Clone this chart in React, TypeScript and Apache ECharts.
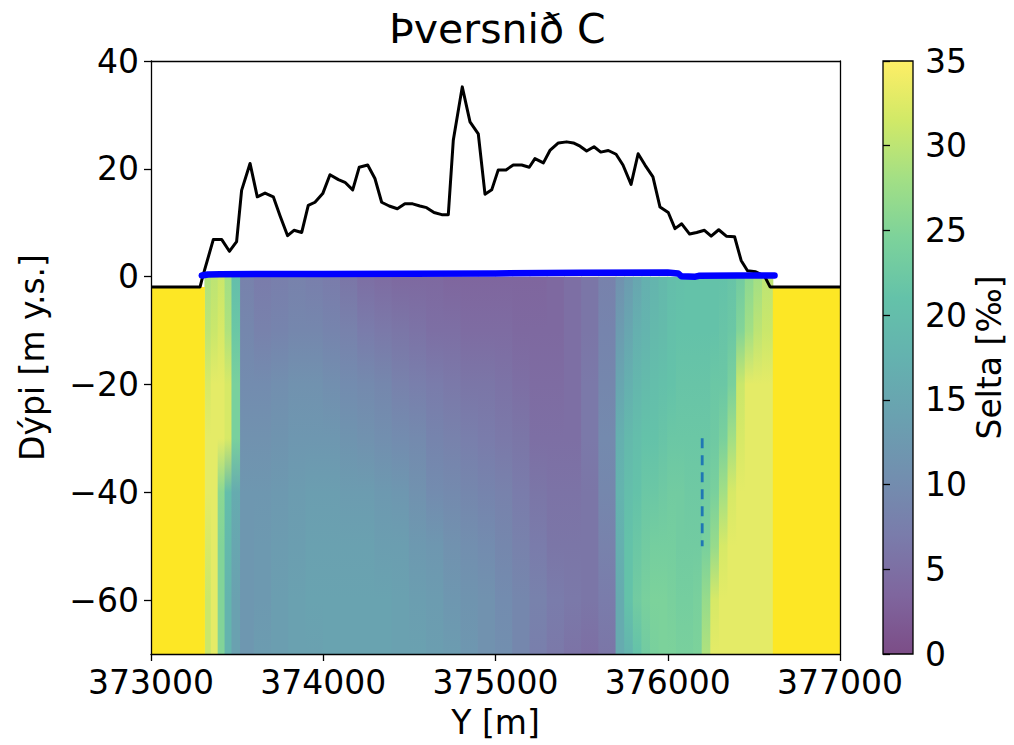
import React, { useEffect, useRef } from "react";
import * as echarts from "echarts";

// ---------------- data ----------------
const xTickValues = [373000, 374000, 375000, 376000, 377000];
const yTickValues = [-60, -40, -20, 0, 20, 40];

// column edges of the salinity grid (m)
const colEdges = [
  373313, 373350, 373390, 373430, 373470, 373520, 373600, 373700, 373800, 373900,
  374000, 374100, 374200, 374300, 374400, 374500, 374600, 374700, 374800, 374900,
  375000, 375100, 375200, 375300, 375400, 375500, 375600, 375700, 375750, 375800,
  375850, 375900, 375950, 376000, 376050, 376100, 376150, 376200, 376250, 376300,
  376350, 376400, 376450, 376500, 376550, 376610,
];
// depth levels (m y.s.)
const depthLevels = [0, -10, -20, -30, -40, -50, -60, -70];
// salinity (‰) per column at each depth level
const sal_0 = [29, 30, 31, 28, 20, 8, 7, 7.5, 8, 7.5, 7, 6, 5, 4.5, 4, 4, 4, 3.5, 3.5, 3.5, 3.5, 3.5, 3.5, 4, 5, 6, 8, 11, 13, 15, 17, 18, 19, 20, 20.5, 21, 21, 21, 21, 21, 21.5, 23, 26, 28, 30];
const sal_10 = [30, 31, 32, 29, 22, 9, 8, 8.5, 9, 9, 8.5, 8, 7, 6.5, 6, 5.5, 5, 5, 4.5, 4.5, 4.5, 4, 4, 4, 5, 6, 8.5, 13, 15, 17, 18, 19, 19.5, 20.5, 21, 21, 21, 21, 21, 21.5, 22, 25, 28, 30, 31];
const sal_20 = [32, 33, 33, 32, 24, 10, 10, 10.5, 11, 11, 10.5, 10, 9.5, 9, 8, 7.5, 7, 6.5, 6, 6, 5.5, 5, 4.5, 4.5, 5, 6.5, 9, 15, 17, 18.5, 19.5, 20, 20.5, 21, 21.5, 21.5, 21.5, 21.5, 22, 22, 24, 31, 33, 33, 33];
const sal_30 = [33, 33, 33, 32, 24, 11, 11, 11.5, 12, 12, 12, 11.5, 11, 10.5, 10, 9.5, 8.5, 8, 7.5, 7, 6.5, 6, 5, 5, 5, 6.5, 9.5, 17, 19, 20, 21, 21, 21.5, 22, 22, 22, 22, 22, 22.5, 24, 28, 32, 33, 33, 33];
const sal_40 = [33, 33, 26, 20, 16, 12, 12, 12.5, 13, 13.5, 13.5, 13, 13, 12.5, 12, 11, 10, 9.5, 9, 8.5, 8, 7, 6, 5.5, 5.5, 6, 9, 18, 20, 21, 22, 22, 22.5, 23, 23, 22.5, 22.5, 23, 24, 28, 32, 33, 33, 33, 33];
const sal_50 = [32, 33, 25, 19, 15, 12, 12.5, 13, 13.5, 14, 14, 14, 14, 13.5, 13.5, 12.5, 12, 11, 10.5, 10, 9, 8, 7, 6, 6, 6, 8, 17, 21, 22, 23, 23.5, 23.5, 23.5, 23, 23, 23, 24, 27, 32, 33, 33, 33, 33, 33];
const sal_60 = [31, 33, 25, 18, 14, 12, 12.5, 13.5, 14, 14.5, 14.5, 14.5, 14.5, 14.5, 14, 13.5, 13, 12, 11.5, 11, 10, 9, 8, 7, 6.5, 6, 7, 16, 21, 23, 24, 24.5, 24.5, 24, 23.5, 23.5, 24, 27, 32, 33, 33, 33, 33, 33, 33];
const sal_70 = [31, 33, 25, 18, 14, 12, 13, 13.5, 14, 14, 14.5, 14.5, 14.5, 14.5, 14, 14, 13.5, 13, 12, 11, 10.5, 9, 7.5, 6.5, 5.5, 5, 6, 16, 18, 21, 23, 24, 24.5, 24.5, 24, 24, 24.5, 29, 33, 33, 33, 33, 33, 33, 33];
const salRows = [sal_0, sal_10, sal_20, sal_30, sal_40, sal_50, sal_60, sal_70];

// open sea outside the section (salinity at max)
const seaX0 = [373000, 376610];
const seaX1 = [373313, 377000];
const seaTop = -1.9;
const seaBottom = -70;

// terrain profile (black line)
const topoX = [373000, 373285, 373300, 373362, 373410, 373455, 373497, 373526, 373575, 373617, 373662, 373710, 373749, 373793, 373830, 373875, 373913, 373952, 373997, 374039, 374088, 374126, 374171, 374209, 374258, 374300, 374339, 374383, 374430, 374474, 374519, 374561, 374600, 374643, 374688, 374726, 374755, 374807, 374852, 374900, 374939, 374978, 375016, 375061, 375103, 375152, 375196, 375229, 375278, 375316, 375365, 375413, 375452, 375491, 375529, 375572, 375611, 375655, 375700, 375740, 375787, 375828, 375868, 375914, 375955, 376003, 376042, 376081, 376127, 376168, 376213, 376252, 376296, 376340, 376388, 376426, 376463, 376511, 376550, 376565, 376594, 377000];
const topoY = [-1.9, -1.9, 0, 6.9, 6.9, 4.7, 6.5, 16, 21, 14.8, 15.5, 14.8, 11.3, 7.6, 8.6, 8.2, 13.2, 13.8, 15.4, 18.9, 18, 17.5, 16.1, 20.3, 20.7, 18.2, 13.8, 13.1, 12.6, 13.5, 13.5, 13.1, 12.8, 11.9, 11.5, 11.5, 25.3, 35.2, 28.7, 26.5, 15.3, 16.1, 19.8, 19.8, 20.7, 20.7, 20.3, 21.9, 21.1, 23.4, 24.8, 25, 24.8, 24.2, 23.3, 24.1, 23.1, 23.4, 22.7, 20.7, 17.1, 22.8, 20.7, 18.5, 12.9, 11.9, 8.9, 9.8, 7.9, 8.2, 8.6, 7.5, 8.7, 7.5, 7.4, 3.0, 1.1, 0.9, 0.3, -0.1, -1.9, -1.9];

// water surface (blue line)
const waterX = [373295, 373330, 373400, 374000, 374500, 375000, 375500, 376000, 376060, 376080, 376160, 376180, 376400, 376620];
const waterY = [0.2, 0.4, 0.45, 0.5, 0.55, 0.6, 0.7, 0.75, 0.6, 0.05, 0.0, 0.15, 0.2, 0.2];

// measurement profile (dashed)
const probeX = [376200, 376200];
const probeY = [-30, -50];

// ---------------- styles ----------------
const VIRIDIS = ["#440154", "#482475", "#414487", "#355f8d", "#2a788e", "#21918c", "#22a884", "#44bf70", "#7ad151", "#bddf26", "#fde725"];
const SAL_MIN = 0;
const SAL_MAX = 35;
const ALPHA = 0.7;
const FONT = "DejaVu Sans";

function hexToRgb(h: string) {
  return [parseInt(h.slice(1, 3), 16), parseInt(h.slice(3, 5), 16), parseInt(h.slice(5, 7), 16)];
}
function viridisBlended(t: number) {
  const tt = Math.max(0, Math.min(1, t)) * (VIRIDIS.length - 1);
  const i = Math.min(VIRIDIS.length - 2, Math.floor(tt));
  const f = tt - i;
  const a = hexToRgb(VIRIDIS[i]);
  const b = hexToRgb(VIRIDIS[i + 1]);
  const c = a.map((v, k) => v + (b[k] - v) * f).map((v) => Math.round(v * ALPHA + 255 * (1 - ALPHA)));
  return `rgb(${c[0]},${c[1]},${c[2]})`;
}
function salColor(v: number) {
  return viridisBlended((v - SAL_MIN) / (SAL_MAX - SAL_MIN));
}
const minusFmt = (v: number) => String(v).replace("-", "\u2212");
const plainFmt = (v: number) => String(v);

export default function App() {
  const ref = useRef<HTMLDivElement>(null);
  useEffect(() => {
    if (!ref.current) return;
    const chart = echarts.init(ref.current, undefined, { renderer: "svg" });
    const last = depthLevels.length - 1;
    const span = depthLevels[0] - depthLevels[last];

    const heatData = colEdges.slice(0, -1).map((x0, i) => [x0, colEdges[i + 1], i]);
    const seaData = seaX0.map((x0, i) => [x0, seaX1[i]]);

    const axisLineStyle = { color: "#000", width: 1.3 };
    const labelStyle = { color: "#000", fontSize: 33, fontFamily: FONT };

    chart.setOption({
      animation: false,
      backgroundColor: "#fff",
      title: {
        text: "Þversnið C",
        left: 389,
        top: 8,
        padding: 0,
        textStyle: { color: "#000", fontSize: 41, fontWeight: "normal", fontFamily: FONT },
      },
      grid: [
        { left: 151, top: 61, width: 689, height: 593, containLabel: false },
        { left: 883, top: 61, width: 30, height: 593, containLabel: false },
      ],
      xAxis: [
        {
          type: "value", gridIndex: 0, position: "bottom", min: 373000, max: 377000, interval: 1000, z: 10,
          axisLine: { show: true, onZero: false, lineStyle: axisLineStyle },
          axisTick: { show: true, length: 7, lineStyle: axisLineStyle, customValues: xTickValues },
          axisLabel: { ...labelStyle, margin: 12, formatter: plainFmt, customValues: xTickValues },
          splitLine: { show: false },
          name: "Y [m]", nameLocation: "middle", nameGap: 52,
          nameTextStyle: { ...labelStyle },
        },
        {
          type: "value", gridIndex: 0, position: "top", min: 373000, max: 377000, z: 10,
          axisLine: { show: true, onZero: false, lineStyle: axisLineStyle },
          axisTick: { show: false }, axisLabel: { show: false }, splitLine: { show: false },
        },
        {
          type: "value", gridIndex: 1, min: 0, max: 1, show: false,
        },
      ],
      yAxis: [
        {
          type: "value", gridIndex: 0, position: "left", min: -70, max: 40, z: 10,
          axisLine: { show: true, onZero: false, lineStyle: axisLineStyle },
          axisTick: { show: true, length: 7, lineStyle: axisLineStyle, customValues: yTickValues },
          axisLabel: { ...labelStyle, margin: 12, formatter: minusFmt, customValues: yTickValues },
          splitLine: { show: false },
          name: "Dýpi [m y.s.]", nameLocation: "middle", nameGap: 102, nameRotate: 90,
          nameTextStyle: { ...labelStyle },
        },
        {
          type: "value", gridIndex: 0, position: "right", min: -70, max: 40, z: 10,
          axisLine: { show: true, onZero: false, lineStyle: axisLineStyle },
          axisTick: { show: false }, axisLabel: { show: false }, splitLine: { show: false },
        },
        {
          type: "value", gridIndex: 1, position: "right", min: SAL_MIN, max: SAL_MAX, interval: 5, z: 10,
          axisLine: { show: false },
          axisTick: { show: true, length: 7, lineStyle: axisLineStyle },
          axisLabel: { ...labelStyle, margin: 12 },
          splitLine: { show: false },
          name: "Selta [‰]", nameLocation: "middle", nameGap: 60, nameRotate: 90,
          nameTextStyle: { ...labelStyle },
        },
      ],
      series: [
        {
          type: "custom", name: "salinity", xAxisIndex: 0, yAxisIndex: 0, z: 1, clip: true,
          data: heatData,
          renderItem: (params: any, api: any) => {
            const i = api.value(2);
            const p0 = api.coord([api.value(0), depthLevels[0]]);
            const p1 = api.coord([api.value(1), depthLevels[last]]);
            const stops = depthLevels.map((d, k) => ({
              offset: (depthLevels[0] - d) / span,
              color: salColor(salRows[k][i]),
            }));
            return {
              type: "rect",
              shape: { x: p0[0] - 0.5, y: p0[1], width: p1[0] - p0[0] + 1, height: p1[1] - p0[1] },
              style: { fill: new echarts.graphic.LinearGradient(0, 0, 0, 1, stops) },
            };
          },
        },
        {
          type: "custom", name: "sea", xAxisIndex: 0, yAxisIndex: 0, z: 2, clip: true,
          data: seaData,
          renderItem: (params: any, api: any) => {
            const p0 = api.coord([api.value(0), seaTop]);
            const p1 = api.coord([api.value(1), seaBottom]);
            return {
              type: "rect",
              shape: { x: p0[0], y: p0[1], width: p1[0] - p0[0], height: p1[1] - p0[1] },
              style: { fill: VIRIDIS[VIRIDIS.length - 1] },
            };
          },
        },
        {
          type: "line", name: "terrain", xAxisIndex: 0, yAxisIndex: 0, z: 3,
          data: topoX.map((x, i) => [x, topoY[i]]),
          showSymbol: false, symbol: "none",
          lineStyle: { color: "#000", width: 3, join: "round" },
        },
        {
          type: "line", name: "water", xAxisIndex: 0, yAxisIndex: 0, z: 4,
          data: waterX.map((x, i) => [x, waterY[i]]),
          showSymbol: false, symbol: "none",
          lineStyle: { color: "#0000ff", width: 6.5, cap: "round", join: "round" },
        },
        {
          type: "line", name: "probe", xAxisIndex: 0, yAxisIndex: 0, z: 5,
          data: probeX.map((x, i) => [x, probeY[i]]),
          showSymbol: false, symbol: "none",
          lineStyle: { color: "#1f77b4", width: 2.8, type: [10, 7] },
        },
        {
          type: "custom", name: "colorbar", xAxisIndex: 2, yAxisIndex: 2, z: 2,
          data: [[0, SAL_MIN, 1, SAL_MAX]],
          renderItem: (params: any, api: any) => {
            const p0 = api.coord([api.value(0), api.value(1)]);
            const p1 = api.coord([api.value(2), api.value(3)]);
            const stops = VIRIDIS.map((_, k) => ({ offset: k / (VIRIDIS.length - 1), color: viridisBlended(k / (VIRIDIS.length - 1)) }));
            return {
              type: "rect",
              shape: { x: p0[0], y: p1[1], width: p1[0] - p0[0], height: p0[1] - p1[1] },
              style: { fill: new echarts.graphic.LinearGradient(0, 1, 0, 0, stops), stroke: "#000", lineWidth: 1.3 },
            };
          },
        },
      ],
    });
    return () => chart.dispose();
  }, []);
  return <div ref={ref} style={{ position: "fixed", left: 0, top: 0, width: 1014, height: 745 }} />;
}
